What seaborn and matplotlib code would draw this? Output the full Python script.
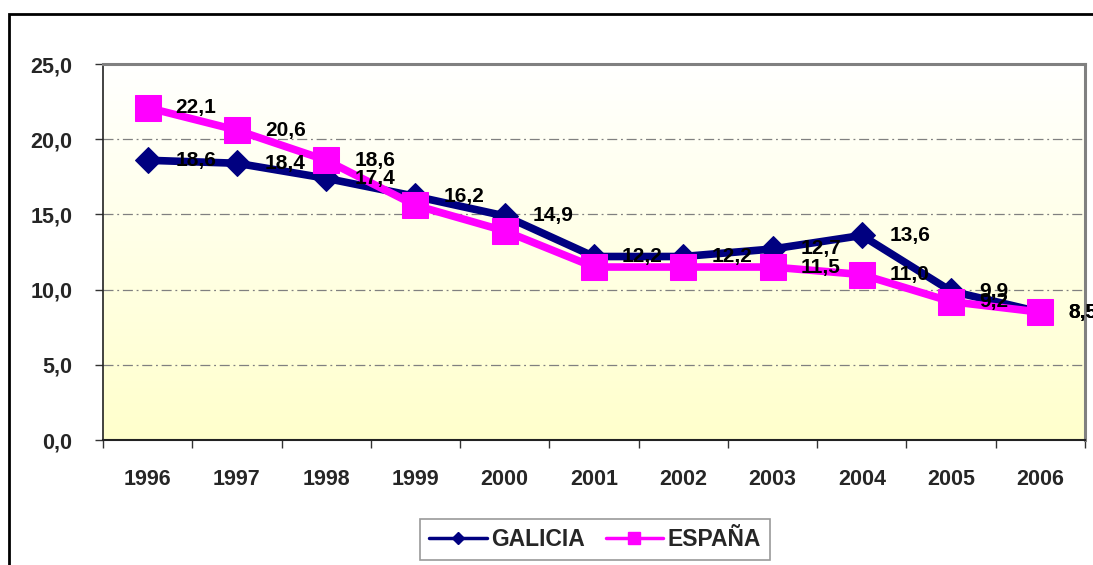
import numpy as np
import pandas as pd
import matplotlib
matplotlib.use("Agg")
import matplotlib.pyplot as plt
import seaborn as sns
from matplotlib.patches import Rectangle
from matplotlib.lines import Line2D
from matplotlib.colors import LinearSegmentedColormap
from matplotlib.ticker import FuncFormatter, FixedLocator

years = ["1996", "1997", "1998", "1999", "2000", "2001", "2002", "2003", "2004", "2005", "2006"]
galicia = [18.6, 18.4, 17.4, 16.2, 14.9, 12.2, 12.2, 12.7, 13.6, 9.9, 8.5]
espana = [22.1, 20.6, 18.6, 15.6, 13.9, 11.5, 11.5, 11.5, 11.0, 9.2, 8.5]
# which points carry a visible value label in the reference
galicia_labeled = [True] * 11
espana_labeled = [True, True, True, False, False, False, False, True, True, True, True]

sns.set_theme(style="white")
plt.rcParams["font.family"] = ["Liberation Sans", "DejaVu Sans"]
plt.rcParams["font.weight"] = "bold"

W, H = 1093, 565
fig = plt.figure(figsize=(W / 100, H / 100), dpi=100)
fig.patch.set_facecolor("white")
ax = fig.add_axes([103 / W, 1 - 440 / H, (1085 - 103) / W, (440 - 64) / H])

x = np.arange(len(years))
df = pd.DataFrame({"x": x, "GALICIA": galicia, "ESPAÑA": espana})

# gradient background
grad = np.linspace(0, 1, 256).reshape(-1, 1)
cmap = LinearSegmentedColormap.from_list("bg", ["#FFFFFF", "#FFFFCC"])
ax.imshow(grad, aspect="auto", cmap=cmap, extent=[0, 1, 0, 1],
          transform=ax.transAxes, zorder=0)

navy = "#000080"
magenta = "#FF00FF"

sns.lineplot(data=df, x="x", y="GALICIA", ax=ax, color=navy, linewidth=5.5,
             marker="D", markersize=13, markeredgecolor=navy, markerfacecolor=navy,
             zorder=3, label="GALICIA")
sns.lineplot(data=df, x="x", y="ESPAÑA", ax=ax, color=magenta, linewidth=5.5,
             marker="s", markersize=18.5, markeredgecolor=magenta, markerfacecolor=magenta,
             zorder=4, label="ESPAÑA")

def fmt(v):
    return f"{v:.1f}".replace(".", ",")

for series, flags in ((galicia, galicia_labeled), (espana, espana_labeled)):
    for xi, v, show in zip(x, series, flags):
        if show:
            ax.annotate(fmt(v), (xi, v), xytext=(28, 0), textcoords="offset pixels",
                        ha="left", va="center", fontsize=15, fontweight="bold",
                        color="black", zorder=6, annotation_clip=False)

ax.set_xlim(-0.5, len(years) - 0.5)
ax.set_ylim(0, 25)
ax.set_xlabel("")
ax.set_ylabel("")

ax.set_yticks([0, 5, 10, 15, 20, 25])
ax.yaxis.set_major_formatter(FuncFormatter(lambda v, p: fmt(v)))
ax.set_xticks(x)
ax.set_xticklabels(years)
ax.xaxis.set_minor_locator(FixedLocator(np.arange(-0.5, len(years), 1.0)))
ax.tick_params(axis="x", which="major", length=0, pad=21, labelsize=15.5)
ax.tick_params(axis="x", which="minor", length=6, width=1, color="#333333", direction="out", bottom=True)
ax.tick_params(axis="y", which="major", length=6, width=1, color="#333333", direction="out",
               left=True, pad=16, labelsize=15.5)
for lab in ax.get_xticklabels() + ax.get_yticklabels():
    lab.set_fontweight("bold")

for yv in [5, 10, 15, 20]:
    ax.axhline(yv, color="#808080", linewidth=0.9, linestyle=(0, (8, 3, 1.5, 3)), zorder=1)

ax.spines["left"].set_color("#222222")
ax.spines["left"].set_linewidth(1.2)
ax.spines["bottom"].set_color("#222222")
ax.spines["bottom"].set_linewidth(1.5)
ax.spines["top"].set_color("#808080")
ax.spines["top"].set_linewidth(2.2)
ax.spines["right"].set_color("#808080")
ax.spines["right"].set_linewidth(2.2)
for s in ax.spines.values():
    s.set_zorder(5)

ax.get_legend().remove()
handles = [
    Line2D([0], [0], color=navy, linewidth=2.5, marker="D", markersize=6.5,
           markerfacecolor=navy, markeredgecolor=navy),
    Line2D([0], [0], color=magenta, linewidth=2.5, marker="s", markersize=8,
           markerfacecolor=magenta, markeredgecolor=magenta),
]
leg = fig.legend(handles, ["GALICIA", "ESPAÑA"], loc="center",
                 bbox_to_anchor=(595 / W, 1 - 539.5 / H), ncol=2, frameon=True,
                 fancybox=False, edgecolor="#808080",
                 handlelength=2.5, columnspacing=0.9, handletextpad=0.2,
                 borderpad=0.4, prop={"weight": "bold", "size": 16.5})
leg.get_frame().set_linewidth(1.2)

# outer chart border (left and top visible)
fig.patches.append(Rectangle((8.5 / W, -0.2), 2.0, 1.2 - 13.5 / H, transform=fig.transFigure,
                             fill=False, edgecolor="black", linewidth=2.0, zorder=10))

fig.savefig("out.png", dpi=100)
